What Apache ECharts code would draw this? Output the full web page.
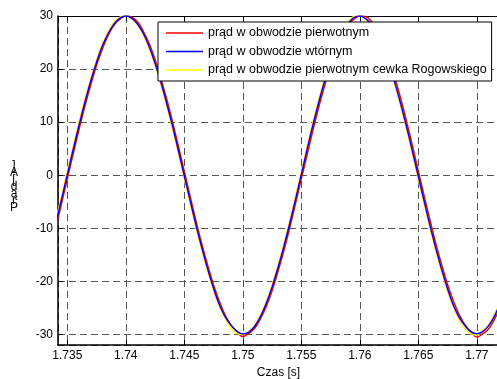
<!DOCTYPE html>
<html>
<head>
<meta charset="utf-8">
<script src="https://cdn.jsdelivr.net/npm/echarts@6/dist/echarts.min.js"></script>
<style>html,body{margin:0;padding:0;background:#fff;}#c{width:497px;height:379px;}</style>
</head>
<body>
<div id="c"></div>
<script>
var time = [1.7340,1.7345,1.7350,1.7355,1.7360,1.7365,1.7370,1.7375,1.7380,1.7385,1.7390,1.7395,
1.7400,1.7405,1.7410,1.7415,1.7420,1.7425,1.7430,1.7435,1.7440,1.7445,1.7450,1.7455,1.7460,1.7465,
1.7470,1.7475,1.7480,1.7485,1.7490,1.7495,1.7500,1.7505,1.7510,1.7515,1.7520,1.7525,1.7530,1.7535,
1.7540,1.7545,1.7550,1.7555,1.7560,1.7565,1.7570,1.7575,1.7580,1.7585,1.7590,1.7595,1.7600,1.7605,
1.7610,1.7615,1.7620,1.7625,1.7630,1.7635,1.7640,1.7645,1.7650,1.7655,1.7660,1.7665,1.7670,1.7675,
1.7680,1.7685,1.7690,1.7695,1.7700,1.7705,1.7710,1.7715,1.7720];

var primary = [-10.0,-5.4,
-0.7,4.0,8.6,13.0,17.0,20.7,23.8,26.4,28.3,29.4,30.0,29.8,28.9,27.1,24.8,21.8,18.2,14.3,10.0,5.4,
0.7,-4.0,-8.6,-13.0,-17.0,-20.7,-23.8,-26.4,-28.3,-29.5,-30.4,-29.8,-28.9,-27.1,-24.8,-21.8,-18.2,-14.3,-10.0,-5.4,
-0.7,3.9,8.5,12.9,16.9,20.6,23.7,26.3,28.2,29.4,30.0,29.9,29.0,27.2,24.9,21.9,18.3,14.4,10.1,5.5,
0.8,-3.9,-8.5,-12.9,-16.9,-20.6,-23.7,-26.3,-28.2,-29.5,-30.5,-29.9,-29.0,-27.2,-24.9];

var secondary = [-9.2,-4.6,
0.1,4.8,9.4,13.7,17.7,21.3,24.4,26.7,28.5,29.6,30.0,29.6,28.5,26.7,24.2,21.1,17.5,13.5,9.2,4.6,
-0.1,-4.8,-9.4,-13.7,-17.7,-21.3,-24.4,-26.7,-28.3,-29.4,-29.9,-29.6,-28.5,-26.7,-24.2,-21.1,-17.5,-13.5,-9.2,-4.6,
0.1,4.9,9.5,13.8,17.8,21.4,24.5,26.8,28.6,29.7,30.0,29.5,28.4,26.6,24.1,21.0,17.4,13.4,9.1,4.5,
-0.2,-4.9,-9.5,-13.8,-17.8,-21.4,-24.5,-26.8,-28.4,-29.5,-29.9,-29.5,-28.4,-26.6,-24.1];

var rogowski = [-8.6,-4.0,
0.7,5.4,10.0,14.3,18.2,21.8,24.8,27.1,28.9,29.8,30.0,29.4,28.3,26.4,23.8,20.7,17.0,13.0,8.6,4.0,
-0.7,-5.4,-10.0,-14.3,-18.2,-21.8,-24.8,-27.1,-28.9,-29.8,-30.0,-29.4,-28.3,-26.4,-23.8,-20.7,-17.0,-13.0,-8.6,-4.0,
0.7,5.5,10.1,14.4,18.3,21.9,24.9,27.2,29.0,29.9,30.0,29.3,28.2,26.3,23.7,20.6,16.9,12.9,8.5,3.9,
-0.8,-5.5,-10.1,-14.4,-18.3,-21.9,-24.9,-27.2,-29.0,-29.9,-30.1,-29.3,-28.2,-26.3,-23.7];

var seriesNames = ['prąd w obwodzie pierwotnym','prąd w obwodzie wtórnym','prąd w obwodzie pierwotnym cewka Rogowskiego'];
var xTitle = 'Czas [s]';
var yTitle = 'Prąd [A]';

function pairs(v){ return time.map(function(t,i){ return [t, v[i]]; }); }

var chart = echarts.init(document.getElementById('c'));
var font = 'Liberation Sans, Arial, sans-serif';
var gridDash = {color:'#555', type:[7,4], width:1};
var xMin = 1.734205, xMax = 1.771897;
chart.setOption({
  animation:false,
  backgroundColor:'#fff',
  grid:{left:58, top:16, right:-2, bottom:34, containLabel:false, outerBoundsMode:'none'},
  legend:{
    left:158, top:22, orient:'vertical',
    backgroundColor:'#fff', borderColor:'#000', borderWidth:1,
    padding:[4,5,4,8], itemWidth:37, itemHeight:14, itemGap:4.5,
    icon:'path://M0,0H37V1.5H0Z',
    textStyle:{fontFamily:font, fontSize:12.5, color:'#000', lineHeight:14},
    data:seriesNames
  },
  xAxis:[{
    type:'value', min:xMin, max:xMax, splitNumber:7,
    name:xTitle, nameLocation:'middle', nameGap:20,
    nameTextStyle:{fontFamily:font, fontSize:12, color:'#000'},
    axisLine:{onZero:false, lineStyle:{color:'#000', width:1.5}},
    axisTick:{inside:true, length:5, lineStyle:{color:'#000'}},
    axisLabel:{fontFamily:font, fontSize:12, color:'#000', margin:5, showMinLabel:false, showMaxLabel:false,
      formatter:function(v){ return String(+v.toFixed(3)); }},
    splitLine:{show:true, lineStyle:gridDash}
  },{
    type:'value', position:'top', min:xMin, max:xMax, splitNumber:7,
    axisLine:{onZero:false, lineStyle:{color:'#000', width:1}},
    axisTick:{inside:true, length:5, lineStyle:{color:'#000'}},
    axisLabel:{show:false}, splitLine:{show:false}
  }],
  yAxis:{
    type:'value', min:-32, max:30, splitNumber:6,
    axisLine:{show:true, onZero:false, lineStyle:{color:'#000', width:1.5}},
    axisTick:{inside:true, length:5, lineStyle:{color:'#000'}},
    axisLabel:{fontFamily:font, fontSize:12, color:'#000', margin:5, showMinLabel:false},
    splitLine:{show:true, lineStyle:gridDash}
  },
  graphic:[{
    type:'text', left:10, top:160,
    style:{text:']\nA\n[\nd\ną\nr\nP', font:'12px ' + font, fill:'#000', lineHeight:7, textAlign:'center'}
  }],
  series:[
    {name:seriesNames[0], type:'line', data:pairs(primary), smooth:0.4, symbol:'none', lineStyle:{color:'#ff0000', width:1.5}, itemStyle:{color:'#ff0000'}},
    {name:seriesNames[2], type:'line', data:pairs(rogowski), smooth:0.4, symbol:'none', lineStyle:{color:'#ffff00', width:1.5}, itemStyle:{color:'#ffff00'}},
    {name:seriesNames[1], type:'line', data:pairs(secondary), smooth:0.4, symbol:'none', lineStyle:{color:'#0000ff', width:1.5}, itemStyle:{color:'#0000ff'}}
  ]
});
</script>
</body>
</html>
